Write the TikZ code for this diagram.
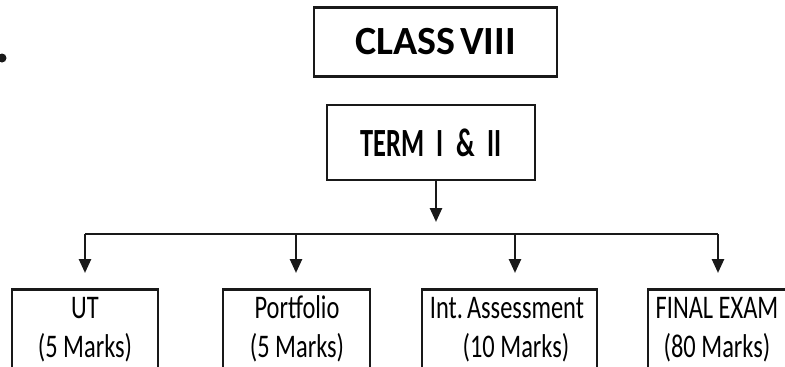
\documentclass[tikz,border=0pt]{standalone}
\usepackage{fontspec}
\setmainfont{Carlito}
\newfontfamily\narrowfont[FakeStretch=0.74]{Carlito}
\newfontfamily\termfont[FakeStretch=0.66]{Carlito}
\usetikzlibrary{arrows.meta}
\tikzset{
  boxline/.style={draw=black!90, line width=2.5pt},
  topbox/.style={boxline, inner sep=0pt},
  lowbox/.style={boxline, anchor=north, minimum height=110pt, inner sep=0pt},
  lowtxt/.style={anchor=base, inner sep=0pt, font=\narrowfont\fontsize{33}{37}\selectfont},
  conn/.style={line width=2.5pt, draw=black!90},
  arr/.style={conn, -{Triangle[width=12pt,length=14pt]}}
}
\begin{document}
\begin{tikzpicture}[x=1pt,y=-1pt]
\useasboundingbox (0,0) rectangle (785,367);
\clip (0,0) rectangle (785,367);
\fill[black!90] (2,58) circle (4.5);
% top boxes
\node[topbox, minimum width=243pt, minimum height=69pt, font=\bfseries\fontsize{40}{44}\selectfont] (class) at (435.5,42) {CLASS\kern5pt VIII};
\node[topbox, minimum width=208pt, minimum height=75pt, font=\termfont\bfseries\fontsize{40}{44}\selectfont] (term) at (431,142.5) {TERM\, I\, \&\, II};
% bottom boxes
\node[lowbox, minimum width=146pt] (ut) at (85,288) {};
\node[lowbox, minimum width=147pt] (pf) at (296.5,288) {};
\node[lowbox, minimum width=175pt] (ia) at (509.5,288) {};
\node[lowbox, minimum width=142pt] (fe) at (719,288) {};
\node[lowtxt] (utA) at (85,318) {UT};
\node[lowtxt] (utB) at (85,357) {(5 Marks)};
\node[lowtxt] (pfA) at (297,318) {Portfolio};
\node[lowtxt] (pfB) at (297,357) {(5 Marks)};
\node[lowtxt] (iaA) at (507,318) {Int.\kern4pt Assessment};
\node[lowtxt] (iaB) at (516,357) {(10 Marks)};
\node[lowtxt] (feA) at (717,318) {FINAL EXAM};
\node[lowtxt] (feB) at (717,357) {(80 Marks)};
% connectors
\coordinate (tA) at (436,222);
\coordinate (j1) at (85,234);
\coordinate (j2) at (296,234);
\coordinate (j3) at (515,234);
\coordinate (j4) at (718,234);
\draw[arr] (tA |- term.south) -- (tA);
\draw[conn] (j1) -- (j4);
\foreach \j/\b in {j1/ut, j2/pf, j3/ia, j4/fe}{
  \draw[arr, shorten >=15pt] (\j) -- (\j |- \b.north);
}
\end{tikzpicture}
\end{document}
